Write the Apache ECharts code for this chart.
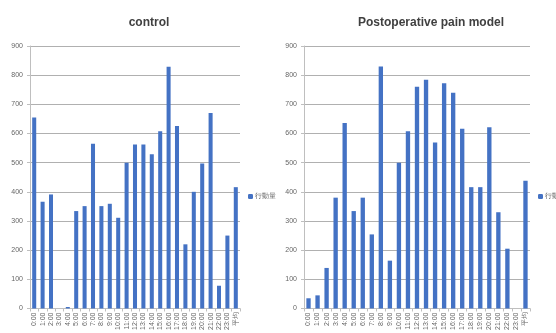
<!DOCTYPE html>
<html>
<head>
<meta charset="utf-8">
<script src="https://cdn.jsdelivr.net/npm/echarts@6/dist/echarts.min.js"></script>
<style>
  html, body { margin: 0; padding: 0; background: #fff; }
  #main { width: 556px; height: 333px; }
</style>
</head>
<body>
<div id="main"></div>
<script>
// 時間帯 (24h + 平均)
var hours = ['0:00','1:00','2:00','3:00','4:00','5:00','6:00','7:00','8:00','9:00','10:00','11:00',
  '12:00','13:00','14:00','15:00','16:00','17:00','18:00','19:00','20:00','21:00','22:00','23:00','平均'];
var controlData = [655, 366, 391, 0, 5, 334, 351, 565, 351, 359, 311, 500,
  562, 562, 529, 608, 829, 626, 220, 400, 497, 670, 78, 250, 416];
var painData = [35, 45, 139, 380, 636, 334, 380, 254, 830, 164, 500, 608,
  760, 784, 569, 772, 740, 616, 416, 416, 621, 330, 205, 0, 438];
var titles = ['control', 'Postoperative pain model'];
var seriesName = '行動量';
var yTicks = { min: 0, max: 900, interval: 100 };

var barColor = '#4472c4';
var gridColor = '#b0b0b0';
var labelColor = '#666';
var titleStyle = { fontFamily: 'Liberation Sans', fontSize: 12, fontWeight: 'bold', color: '#404040' };

function xAxisOf(idx) {
  return {
    type: 'category', gridIndex: idx, data: hours,
    axisLine: { lineStyle: { color: '#bfbfbf' } },
    axisTick: { show: true, length: 3, lineStyle: { color: '#bfbfbf' } },
    axisLabel: { rotate: 90, fontSize: 7, color: labelColor, margin: 4, interval: 0 }
  };
}
function yAxisOf(idx) {
  return {
    type: 'value', gridIndex: idx, min: yTicks.min, max: yTicks.max, interval: yTicks.interval,
    axisLine: { show: true, lineStyle: { color: '#bfbfbf' } },
    axisTick: { show: true, length: 3, lineStyle: { color: '#bfbfbf' } },
    axisLabel: { fontSize: 7, color: labelColor, margin: 7 },
    splitLine: { lineStyle: { color: gridColor } }
  };
}

var myChart = echarts.init(document.getElementById('main'));
var option = {
  animation: false,
  title: [{
    text: titles[0], left: 144, top: 12, textAlign: 'center', textStyle: titleStyle
  }, {
    text: titles[1], left: 426, top: 12, textAlign: 'center', textStyle: titleStyle
  }],
  legend: [{
    data: [seriesName], left: 243, top: 188, itemWidth: 5, itemHeight: 5, itemGap: 2,
    textStyle: { fontSize: 7, color: labelColor, padding: [0, 0, 0, -3] }
  }, {
    data: [seriesName], left: 533, top: 188, itemWidth: 5, itemHeight: 5, itemGap: 2,
    textStyle: { fontSize: 7, color: labelColor, padding: [0, 0, 0, -3] }
  }],
  grid: [
    { left: 30, right: 316, top: 46, bottom: 23 },
    { left: 304, right: 26, top: 46, bottom: 23 }
  ],
  xAxis: [xAxisOf(0), xAxisOf(1)],
  yAxis: [yAxisOf(0), yAxisOf(1)],
  series: [{
    name: seriesName, type: 'bar', xAxisIndex: 0, yAxisIndex: 0,
    data: controlData, barCategoryGap: '52%', itemStyle: { color: barColor }
  }, {
    name: seriesName, type: 'bar', xAxisIndex: 1, yAxisIndex: 1,
    data: painData, barCategoryGap: '52%', itemStyle: { color: barColor }
  }]
};
myChart.setOption(option);
</script>
</body>
</html>
